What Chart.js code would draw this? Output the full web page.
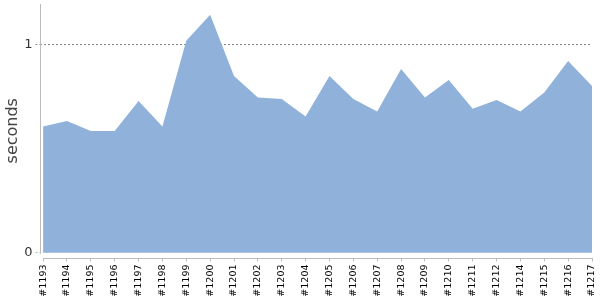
<!DOCTYPE html>
<html>
<head>
<meta charset="utf-8">
<script src="https://cdn.jsdelivr.net/npm/chart.js@4/dist/chart.umd.min.js"></script>
<style>
  html, body { margin: 0; padding: 0; background: #fff; }
  #wrap { width: 600px; height: 300px; }
</style>
</head>
<body>
<div id="wrap"><canvas id="runChart"></canvas></div>
<script>
// Build labels and run times (seconds)
const buildLabels = ['#1193', '#1194', '#1195', '#1196', '#1197', '#1198', '#1199', '#1200',
    '#1201', '#1202', '#1203', '#1204', '#1205', '#1206', '#1207', '#1208', '#1209', '#1210',
    '#1211', '#1212', '#1214', '#1215', '#1216', '#1217'];
const runSeconds = [0.605, 0.632, 0.584, 0.584, 0.728, 0.605, 1.017, 1.141,
    0.848, 0.744, 0.737, 0.653, 0.848, 0.737, 0.677, 0.881, 0.744, 0.829,
    0.690, 0.733, 0.677, 0.768, 0.920, 0.800];
const yTickValues = [0, 1];
const yAxisTitle = 'seconds';

const fontFamily = '"DejaVu Sans", Verdana, sans-serif';

// Axis lines sit a little apart from the plot, so draw them here
const axisLines = {
    id: 'axisLines',
    afterDraw(chart) {
        const { ctx, chartArea, scales } = chart;
        ctx.save();
        ctx.strokeStyle = '#bbb';
        ctx.lineWidth = 1;
        ctx.beginPath();
        const lx = Math.round(chartArea.left) + 0.5;
        ctx.moveTo(lx, chartArea.top);
        ctx.lineTo(lx, scales.y.getPixelForValue(0) + 1);
        const by = Math.round(chartArea.bottom) + 0.5;
        ctx.moveTo(scales.x.getPixelForValue(0), by);
        ctx.lineTo(chartArea.right + 1, by);
        ctx.stroke();
        ctx.restore();
    }
};

const points = runSeconds.map((v, i) => ({ x: i, y: v }));

new Chart(document.getElementById('runChart').getContext('2d'), {
    type: 'line',
    data: {
        datasets: [{
            data: points,
            fill: 'origin',
            backgroundColor: '#8fb1da',
            borderWidth: 0,
            pointRadius: 0,
            tension: 0
        }]
    },
    options: {
        responsive: true,
        maintainAspectRatio: false,
        animation: false,
        layout: { padding: { top: 4, right: 8, left: 0, bottom: 0 } },
        plugins: { legend: { display: false }, tooltip: { enabled: false } },
        scales: {
            x: {
                type: 'linear',
                min: -0.15,
                max: buildLabels.length - 1,
                afterBuildTicks: scale => {
                    scale.ticks = buildLabels.map((_, i) => ({ value: i }));
                },
                afterFit: scale => {
                    scale.height = 42.5;
                    scale.paddingLeft = 0;
                    scale.paddingRight = 0;
                },
                border: { display: false },
                grid: {
                    drawOnChartArea: false,
                    tickLength: 4,
                    tickColor: '#bbb'
                },
                ticks: {
                    autoSkip: false,
                    minRotation: 90,
                    maxRotation: 90,
                    padding: 3,
                    color: '#000',
                    font: { family: fontFamily, size: 9.5 },
                    callback: value => buildLabels[value] ?? ''
                }
            },
            y: {
                min: -0.023,
                max: 1.193,
                afterBuildTicks: scale => {
                    scale.ticks = yTickValues.map(v => ({ value: v }));
                },
                afterFit: scale => {
                    scale.width = 39.5;
                    scale.paddingTop = 0;
                    scale.paddingBottom = 0;
                },
                border: { display: false, dash: [2, 2] },
                grid: {
                    color: ctx => ctx.tick && ctx.tick.value === 1 ? '#888' : 'rgba(0,0,0,0)',
                    tickColor: ctx => ctx.tick && ctx.tick.value === 1 ? '#888' : '#bbb',
                    tickBorderDash: [2, 2],
                    tickLength: 4
                },
                ticks: {
                    padding: 3,
                    color: '#333',
                    font: { family: fontFamily, size: 13 },
                    callback: value => String(value)
                },
                title: {
                    display: true,
                    text: yAxisTitle,
                    color: '#444',
                    font: { family: fontFamily, size: 16 },
                    padding: { top: 3, bottom: 0 }
                }
            }
        }
    },
    plugins: [axisLines]
});
</script>
</body>
</html>
